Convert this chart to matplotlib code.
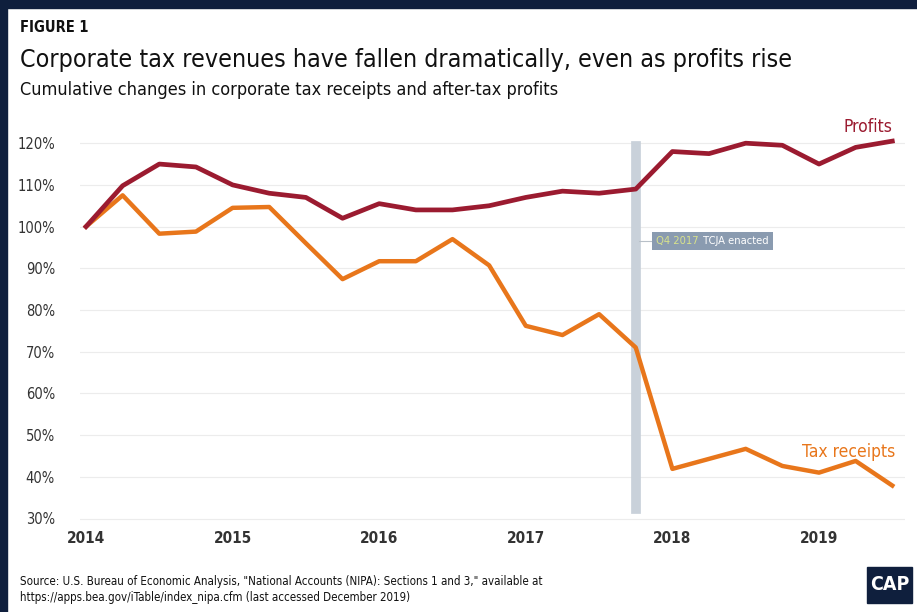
import matplotlib
matplotlib.use("Agg")
import matplotlib.pyplot as plt
from matplotlib.patches import Rectangle
from matplotlib.offsetbox import TextArea, HPacker, AnnotationBbox

# quarterly index, 2014 Q1 = 100%
quarters = [2014 + i * 0.25 for i in range(23)]
profits = [100, 109.8, 115, 114.3, 110, 108, 107, 102, 105.5, 104, 104, 105,
           107, 108.5, 108, 109, 118, 117.5, 120, 119.5, 115, 119, 120.5]
tax = [100, 107.5, 98.3, 98.8, 104.5, 104.7, 96, 87.4, 91.7, 91.7, 97, 90.7,
       76.2, 74, 79, 71, 41.9, 44.3, 46.7, 42.6, 41, 43.8, 37.9]
year_ticks = [2014, 2015, 2016, 2017, 2018, 2019]
pct_ticks = [30, 40, 50, 60, 70, 80, 90, 100, 110, 120]

RED = "#9b1b30"
ORANGE = "#e8761b"
NAVY = "#0f1f3d"
plt.rcParams["font.family"] = ["DejaVu Sans"]
plt.rcParams["font.stretch"] = "condensed"

W, H = 917, 612
fig = plt.figure(figsize=(W / 100, H / 100), dpi=100)
fig.patch.set_facecolor("white")

# navy frame strips
fig.patches.append(Rectangle((0, 1 - 8 / H), 1, 8 / H, transform=fig.transFigure, color=NAVY, zorder=0))
fig.patches.append(Rectangle((0, 0), 7 / W, 1, transform=fig.transFigure, color=NAVY, zorder=0))

# axes placement in pixels
left, right, top, bottom = 80, 905, 130, 525
ax = fig.add_axes([left / W, (H - bottom) / H, (right - left) / W, (bottom - top) / H])
px_year = 146.6
px_pct = 4.17
ax.set_xlim(2014 - (86 - left) / px_year, 2014 + (right - 86) / px_year)
ax.set_ylim(100 - (bottom - 226.6) / px_pct, 100 + (226.6 - top) / px_pct)

for s in ax.spines.values():
    s.set_visible(False)
ax.set_yticks(pct_ticks)
ax.set_yticklabels([f"{v}%" for v in pct_ticks])
ax.set_xticks(year_ticks)
ax.set_xticklabels([str(y) for y in year_ticks], fontweight="bold")
ax.tick_params(axis="y", length=0, pad=18, labelsize=10.5, labelcolor="#333333")
ax.tick_params(axis="x", length=0, pad=4, labelsize=11, labelcolor="#333333")
ax.grid(axis="y", color="#ececec", lw=0.8)
ax.set_axisbelow(True)

# TCJA marker
ax.axvline(2017.75, ymin=0.04, ymax=0.96, color="#c9d1da", lw=7, zorder=1)
ax.plot([2017.77, 2017.89], [96.5, 96.5], color="#b8c0c8", lw=0.8, zorder=1)
label = HPacker(children=[TextArea("Q4 2017", textprops=dict(color="#d8e28c", fontsize=8)),
                          TextArea("TCJA enacted", textprops=dict(color="white", fontsize=8))],
                sep=3, pad=0, align="center")
ab = AnnotationBbox(label, (2017.89, 96.5), box_alignment=(0, 0.5), frameon=True,
                    pad=0.25, bboxprops=dict(fc="#8a9bb0", ec="none", boxstyle="square"), zorder=4)
ax.add_artist(ab)

ax.plot(quarters, tax, color=ORANGE, lw=3.2, solid_joinstyle="round", zorder=3)
ax.plot(quarters, profits, color=RED, lw=3.4, solid_joinstyle="round", zorder=3)

ax.text(2019.5, profits[-1] + 1.3, "Profits", color=RED, fontsize=12.5, ha="right", va="bottom")
ax.text(2019.52, tax[-1] + 5.8, "Tax receipts", color=ORANGE, fontsize=12.5, ha="right", va="bottom")

# titles
fig.text(20 / W, 1 - 27 / H, "FIGURE 1", fontsize=10.5, fontweight="bold", color="#111111", va="center")
fig.text(20 / W, 1 - 60 / H, "Corporate tax revenues have fallen dramatically, even as profits rise",
         fontsize=17.9, color="#111111", va="center")
fig.text(20 / W, 1 - 90 / H, "Cumulative changes in corporate tax receipts and after-tax profits",
         fontsize=13, color="#111111", va="center")

fig.text(20 / W, 1 - 581 / H,
         "Source: U.S. Bureau of Economic Analysis, \"National Accounts (NIPA): Sections 1 and 3,\" available at",
         fontsize=8.3, color="#111111", va="center")
fig.text(20 / W, 1 - 598 / H,
         "https://apps.bea.gov/iTable/index_nipa.cfm (last accessed December 2019)",
         fontsize=8.3, color="#111111", va="center")

# CAP logo
fig.patches.append(Rectangle((867 / W, 1 - 603 / H), 45 / W, 36 / H, transform=fig.transFigure,
                             color=NAVY, zorder=2))
fig.text(889.5 / W, 1 - 585 / H, "CAP", fontsize=14, fontweight="bold", color="white",
         ha="center", va="center", zorder=3)

fig.savefig("out.png", dpi=100, facecolor=fig.get_facecolor())
